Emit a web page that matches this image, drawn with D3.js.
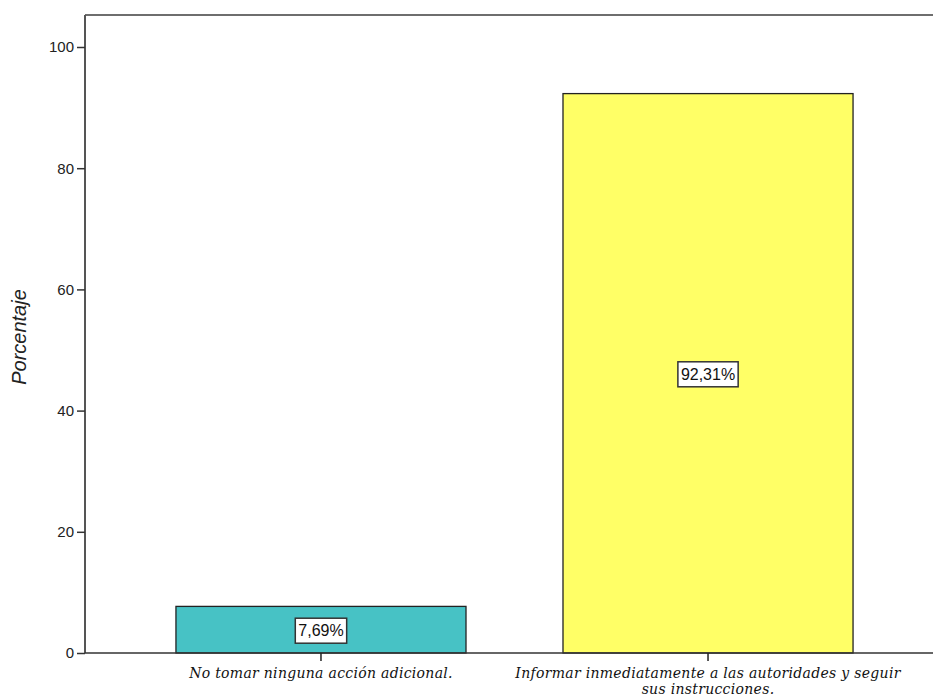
<!DOCTYPE html>
<html><head><meta charset="utf-8">
<script src="https://cdn.jsdelivr.net/npm/d3@7"></script>
<style>body{margin:0;background:#fff}svg{display:block}</style>
</head><body>
<svg id="c" width="933" height="696"></svg>
<script>
const categories = ["No tomar ninguna acción adicional.", "Informar inmediatamente a las autoridades y seguir sus instrucciones."];
const categoryLines = [["No tomar ninguna acción adicional."], ["Informar inmediatamente a las autoridades y seguir", "sus instrucciones."]];
const values = [7.69, 92.31];
const valueLabels = ["7,69%", "92,31%"];
const colors = ["#47C2C5", "#FFFF66"];
const yTicks = [0, 20, 40, 60, 80, 100];

const svg = d3.select("#c");
const L = 85, R = 944, T = 15, B = 653;
const y = d3.scaleLinear().domain([0, 100]).range([B, 47]);
const x = d3.scaleBand().domain(categories).range([L, R]).paddingInner(0.2506).paddingOuter(0.235);

// frame top line
svg.append("line").attr("x1", L).attr("x2", 933).attr("y1", T).attr("y2", T)
  .attr("stroke", "#6e6e6e").attr("stroke-width", 2);

// bars
svg.selectAll("rect.bar").data(values).enter().append("rect")
  .attr("x", (d, i) => x(categories[i]))
  .attr("y", d => y(d))
  .attr("width", x.bandwidth())
  .attr("height", d => B - y(d))
  .attr("fill", (d, i) => colors[i])
  .attr("stroke", "#222").attr("stroke-width", 1.3);

// y axis
const yAxis = d3.axisLeft(y).tickValues(yTicks).tickSize(8).tickPadding(3).tickFormat(d3.format("d"));
const ga = svg.append("g").attr("transform", `translate(${L},0)`).call(yAxis);
ga.select(".domain").attr("d", `M0,${T}V${B}`).attr("stroke", "#555").attr("stroke-width", 2);
ga.selectAll(".tick line").attr("stroke", "#333").attr("stroke-width", 1.5);
ga.selectAll(".tick text").attr("font-family", "Liberation Sans, Arial, sans-serif").attr("font-size", 15).attr("fill", "#222");

// x axis
const xAxis = d3.axisBottom(x).tickSize(8).tickFormat("");
const gx = svg.append("g").attr("transform", `translate(0,${B})`).call(xAxis);
gx.select(".domain").attr("d", `M${L},0H933`).attr("stroke", "#333").attr("stroke-width", 1.5);
gx.selectAll(".tick line").attr("stroke", "#222").attr("stroke-width", 1.5);
gx.selectAll(".tick").each(function(d, i) {
  const t = d3.select(this).append("text").attr("text-anchor", "middle")
    .attr("font-family", "'DejaVu Serif', serif").attr("font-style", "italic")
    .attr("font-size", 14).attr("letter-spacing", 0.3).attr("fill", "#111");
  categoryLines[i].forEach((ln, j) => t.append("tspan").attr("x", 0).attr("y", 25 + j * 16).text(ln));
});

// y label
svg.append("text").attr("transform", `translate(26,${(T + B) / 2 + 3}) rotate(-90)`)
  .attr("text-anchor", "middle").attr("font-family", "Liberation Sans, Arial, sans-serif")
  .attr("font-style", "italic").attr("font-size", 20).attr("fill", "#222").text("Porcentaje");

// value labels
values.forEach((v, i) => {
  const cx = x(categories[i]) + x.bandwidth() / 2;
  const cy = (y(v) + B) / 2 + 1;
  const g = svg.append("g");
  const t = g.append("text").attr("x", cx).attr("y", cy).attr("text-anchor", "middle")
    .attr("dominant-baseline", "central").attr("font-family", "Liberation Sans, Arial, sans-serif")
    .attr("font-size", 16).attr("fill", "#111").text(valueLabels[i]);
  const bb = t.node().getBBox();
  g.insert("rect", "text").attr("x", bb.x - 3).attr("y", cy - 12.5).attr("width", bb.width + 6).attr("height", 25)
    .attr("fill", "#fff").attr("stroke", "#333").attr("stroke-width", 1.5);
});
</script>
</body></html>
